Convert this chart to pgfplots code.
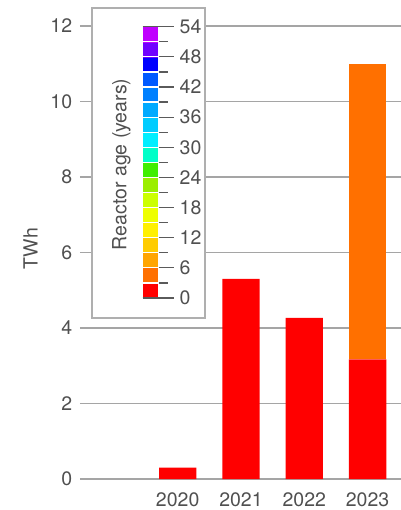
\documentclass[border=0pt]{standalone}
\usepackage{pgfplots}
\pgfplotsset{compat=1.18}
\usetikzlibrary{calc}
\usepackage{fontspec}
\setmainfont{TeX Gyre Heros}
\definecolor{textgray}{RGB}{80,80,80}
\definecolor{gridgray}{RGB}{165,165,165}
\definecolor{boxgray}{RGB}{175,175,175}
\definecolor{tickgray}{RGB}{90,90,90}
\definecolor{age0}{RGB}{255,0,0}
\definecolor{age3}{RGB}{255,112,0}
\newcommand{\lbl}{\fontsize{19.5bp}{23bp}\selectfont}
\begin{document}
\begin{tikzpicture}
\useasboundingbox (-80bp,-31bp) rectangle (321bp,479bp);
\begin{axis}[
  scale only axis, width=321bp, height=479bp,
  xmin=-0.543, xmax=4.528, ymin=0, ymax=12.69,
  axis line style={draw=none},
  major tick length=0pt,
  ytick={0,2,...,12},
  xtick={1,2,3,4}, xticklabels={2020,2021,2022,2023},
  ymajorgrids, major grid style={color=gridgray, line width=1.3bp},
  /pgf/number format/assume math mode=true,
  tick label style={font=\lbl, text=textgray, inner sep=0pt},
  yticklabel style={anchor=east, xshift=-7.7bp},
  xticklabel style={anchor=north, yshift=-13bp},
  ylabel={TWh},
  ylabel style={font=\lbl, text=textgray, at={(axis description cs:-0.154,0.481)}, anchor=center},
  ybar stacked, bar width=0.59,
  % reactor age scale, 18 bands of 3 years from 0 to 54 years
  colormap={reactorage}{
    rgb255=(255,0,0) rgb255=(255,112,0) rgb255=(255,165,0) rgb255=(255,204,0)
    rgb255=(255,240,0) rgb255=(238,255,0) rgb255=(204,255,0) rgb255=(155,238,0)
    rgb255=(64,238,0) rgb255=(0,255,200) rgb255=(0,238,255) rgb255=(0,204,255)
    rgb255=(0,170,255) rgb255=(0,128,255) rgb255=(0,90,255) rgb255=(0,0,255)
    rgb255=(112,0,255) rgb255=(192,0,255)
  },
  colormap access=piecewise constant,
  point meta min=0, point meta max=54,
  colorbar,
  colorbar style={
    at={($(parent axis.south west)+(54bp,181bp)$)}, anchor=south west,
    scale only axis, width=16bp, height=271.3bp,
    xtick=\empty, stack plots=false,
    ytick={0,6,...,54}, minor ytick={3,9,...,51},
    ytick pos=right, yticklabel pos=right,
    tick align=outside, major tick length=15bp, minor tick length=9bp,
    tick style={tickgray, line width=1.2bp},
    ymajorgrids, yminorgrids,
    major grid style={white, line width=1.2bp},
    minor grid style={white, line width=1.2bp},
    axis on top,
    separate axis lines,
    x axis line style={draw=tickgray, line width=1.2bp},
    y axis line style={draw=none},
    /pgf/number format/assume math mode=true,
    yticklabel style={font=\lbl, text=textgray, inner sep=0pt, anchor=west, xshift=6bp,
      /pgf/number format/assume math mode=true},
    ylabel={Reactor age (years)},
    ylabel style={font=\lbl, text=textgray, at={(axis description cs:-1.3125,0.493)}, anchor=center},
  },
]
\draw[boxgray, line width=1.2bp, fill=white] (axis cs:-0.354,4.265) rectangle (axis cs:1.431,12.477);
\addplot[fill=age0, draw=none] coordinates {(1,0.30) (2,5.30) (3,4.27) (4,3.17)};
\addplot[fill=age3, draw=none] coordinates {(1,0) (2,0) (3,0) (4,7.83)};
\end{axis}
\end{tikzpicture}
\end{document}
